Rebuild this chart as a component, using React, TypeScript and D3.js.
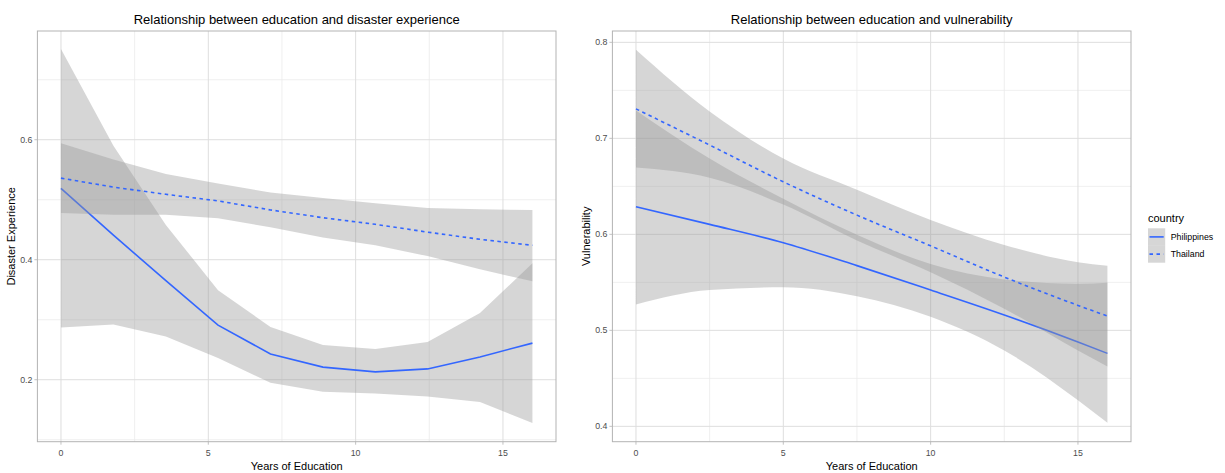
import React from "react";
import * as d3 from "d3";

// ---------- Data ----------
// Left panel: disaster experience (loess fits evaluated at 10 points)
const leftX = [0, 1.78, 3.56, 5.33, 7.11, 8.89, 10.67, 12.44, 14.22, 16];
const phDisasterFit = [0.519, 0.441, 0.365, 0.291, 0.243, 0.221, 0.213, 0.218, 0.238, 0.261];
const phDisasterLow = [0.287, 0.292, 0.272, 0.236, 0.195, 0.18, 0.177, 0.172, 0.163, 0.128];
const phDisasterHigh = [0.751, 0.59, 0.458, 0.349, 0.288, 0.258, 0.251, 0.263, 0.311, 0.394];
const thDisasterFit = [0.536, 0.521, 0.509, 0.498, 0.483, 0.47, 0.459, 0.446, 0.434, 0.424];
const thDisasterLow = [0.478, 0.475, 0.475, 0.469, 0.454, 0.437, 0.424, 0.406, 0.384, 0.364];
const thDisasterHigh = [0.594, 0.567, 0.543, 0.527, 0.512, 0.503, 0.494, 0.486, 0.484, 0.483];

// Right panel: vulnerability
const rightX = [0, 2.5, 5, 7.5, 10, 12.5, 15, 16];
const phVulnFit = [0.6288, 0.6104, 0.5913, 0.5674, 0.542, 0.516, 0.4879, 0.476];
const phVulnLow = [0.527, 0.542, 0.5448, 0.5355, 0.5141, 0.479, 0.4273, 0.4038];
const phVulnHigh = [0.729, 0.679, 0.637, 0.5995, 0.569, 0.553, 0.5485, 0.5496];
const thVulnFit = [0.7307, 0.693, 0.6547, 0.62, 0.588, 0.5555, 0.526, 0.5149];
const thVulnLow = [0.6695, 0.659, 0.631, 0.5937, 0.5605, 0.5225, 0.479, 0.4623];
const thVulnHigh = [0.7923, 0.7279, 0.679, 0.6465, 0.615, 0.589, 0.571, 0.5673];

const countries = ["Philippines", "Thailand"];
const xMajor = [0, 5, 10, 15];
const xMinor = [2.5, 7.5, 12.5];
const leftYMajor = [0.2, 0.4, 0.6];
const leftYMinor = [0.1, 0.3, 0.5, 0.7];
const rightYMajor = [0.4, 0.5, 0.6, 0.7, 0.8];
const rightYMinor = [0.45, 0.55, 0.65, 0.75];

const FONT = "'Liberation Sans', Arial, Helvetica, sans-serif";
const LINE = "#3366FF";

type Series = { x: number[]; fit: number[]; low: number[]; high: number[]; dashed: boolean };

function Panel(props: {
  x0: number; x1: number; y0: number; y1: number;
  yDomain: [number, number];
  yMajor: number[]; yMinor: number[];
  series: Series[];
  title: string; yTitle: string;
  smooth: boolean;
}) {
  const { x0, x1, y0, y1, yDomain, yMajor, yMinor, series, title, yTitle, smooth } = props;
  const xs = d3.scaleLinear().domain([-0.8, 16.8]).range([x0, x1]);
  const ys = d3.scaleLinear().domain(yDomain).range([y1, y0]);
  const cx = (x0 + x1) / 2;
  const cy = (y0 + y1) / 2;
  const curve = smooth ? d3.curveMonotoneX : d3.curveLinear;
  return (
    <g>
      {/* grid */}
      {yMinor.map((v) => (
        <line key={"ym" + v} x1={x0} x2={x1} y1={ys(v)} y2={ys(v)} stroke="#ebebeb" strokeWidth={0.8} />
      ))}
      {xMinor.map((v) => (
        <line key={"xm" + v} x1={xs(v)} x2={xs(v)} y1={y0} y2={y1} stroke="#ebebeb" strokeWidth={0.8} />
      ))}
      {yMajor.map((v) => (
        <line key={"yM" + v} x1={x0} x2={x1} y1={ys(v)} y2={ys(v)} stroke="#dedede" strokeWidth={1} />
      ))}
      {xMajor.map((v) => (
        <line key={"xM" + v} x1={xs(v)} x2={xs(v)} y1={y0} y2={y1} stroke="#dedede" strokeWidth={1} />
      ))}
      {/* smooths */}
      {series.map((s, si) => {
        const idx = s.x.map((_, i) => i);
        const area = d3
          .area<number>()
          .x((i) => xs(s.x[i]))
          .y0((i) => ys(s.low[i]))
          .y1((i) => ys(s.high[i]))
          .curve(curve);
        const line = d3
          .line<number>()
          .x((i) => xs(s.x[i]))
          .y((i) => ys(s.fit[i]))
          .curve(curve);
        return (
          <g key={si}>
            <path d={area(idx) || ""} fill="#999999" fillOpacity={0.4} />
            <path
              d={line(idx) || ""}
              fill="none"
              stroke={LINE}
              strokeWidth={1.6}
              strokeDasharray={s.dashed ? "3.5 3.5" : undefined}
            />
          </g>
        );
      })}
      {/* border */}
      <rect x={x0} y={y0} width={x1 - x0} height={y1 - y0} fill="none" stroke="#b3b3b3" strokeWidth={1} />
      {/* ticks */}
      {yMajor.map((v) => (
        <g key={"yt" + v}>
          <line x1={x0 - 3} x2={x0} y1={ys(v)} y2={ys(v)} stroke="#b3b3b3" strokeWidth={0.8} />
          <text x={x0 - 5} y={ys(v)} dy="0.35em" textAnchor="end" fontSize={8.8} fill="#4d4d4d" fontFamily={FONT}>
            {d3.format(".1f")(v)}
          </text>
        </g>
      ))}
      {xMajor.map((v) => (
        <g key={"xt" + v}>
          <line x1={xs(v)} x2={xs(v)} y1={y1} y2={y1 + 3} stroke="#b3b3b3" strokeWidth={0.8} />
          <text x={xs(v)} y={y1 + 14} textAnchor="middle" fontSize={8.8} fill="#4d4d4d" fontFamily={FONT}>
            {v}
          </text>
        </g>
      ))}
      {/* titles */}
      <text x={cx} y={23.5} textAnchor="middle" fontSize={13} fill="#000" fontFamily={FONT}>
        {title}
      </text>
      <text x={cx} y={469.5} textAnchor="middle" fontSize={11} fill="#000" fontFamily={FONT}>
        Years of Education
      </text>
      <text
        transform={`translate(${x0 - 22.5},${cy}) rotate(-90)`}
        textAnchor="middle"
        fontSize={11}
        fill="#000"
        fontFamily={FONT}
      >
        {yTitle}
      </text>
    </g>
  );
}

export default function App() {
  const leftSeries: Series[] = [
    { x: leftX, fit: phDisasterFit, low: phDisasterLow, high: phDisasterHigh, dashed: false },
    { x: leftX, fit: thDisasterFit, low: thDisasterLow, high: thDisasterHigh, dashed: true },
  ];
  const rightSeries: Series[] = [
    { x: rightX, fit: phVulnFit, low: phVulnLow, high: phVulnHigh, dashed: false },
    { x: rightX, fit: thVulnFit, low: thVulnLow, high: thVulnHigh, dashed: true },
  ];
  const legendX = 1148;
  const keyTop = 228.3;
  const keyH = 17.2;
  return (
    <svg
      width={1225}
      height={473}
      style={{ position: "absolute", left: 0, top: 0, display: "block", background: "#fff" }}
    >
      <rect x={0} y={0} width={1225} height={473} fill="#fff" />
      <Panel
        x0={37.4}
        x1={556}
        y0={31}
        y1={441.7}
        yDomain={[0.0967, 0.7812]}
        yMajor={leftYMajor}
        yMinor={leftYMinor}
        series={leftSeries}
        title="Relationship between education and disaster experience"
        yTitle="Disaster Experience"
        smooth={false}
      />
      <Panel
        x0={612.4}
        x1={1131}
        y0={31}
        y1={441.7}
        yDomain={[0.384, 0.8118]}
        yMajor={rightYMajor}
        yMinor={rightYMinor}
        series={rightSeries}
        title="Relationship between education and vulnerability"
        yTitle="Vulnerability"
        smooth={true}
      />
      {/* legend */}
      <text x={legendX} y={222} fontSize={11} fill="#000" fontFamily={FONT}>
        country
      </text>
      {countries.map((c, i) => {
        const ky = keyTop + i * keyH;
        return (
          <g key={c}>
            <rect x={legendX} y={ky} width={keyH} height={keyH} fill="#999999" fillOpacity={0.4} />
            <line
              x1={legendX + 1.5}
              x2={legendX + keyH - 1.5}
              y1={ky + keyH / 2}
              y2={ky + keyH / 2}
              stroke={LINE}
              strokeWidth={1.6}
              strokeDasharray={i === 1 ? "3.5 3.5" : undefined}
            />
            <text x={legendX + keyH + 5.5} y={ky + keyH / 2} dy="0.35em" fontSize={8.8} fill="#000" fontFamily={FONT}>
              {c}
            </text>
          </g>
        );
      })}
    </svg>
  );
}
